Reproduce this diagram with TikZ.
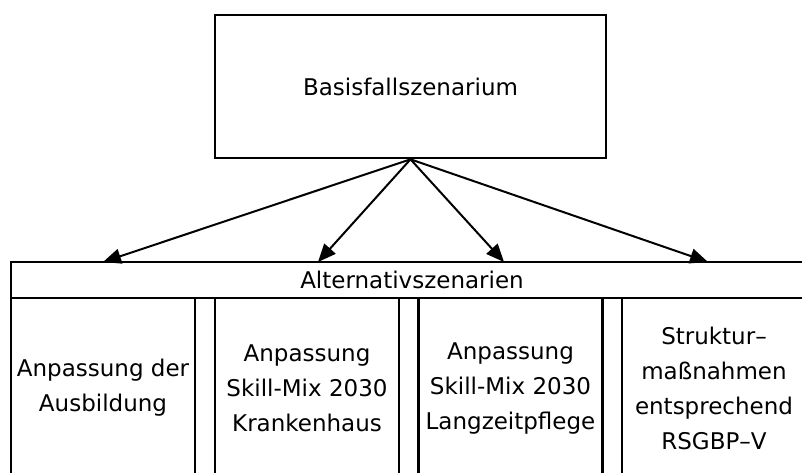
\documentclass[tikz,border=0pt]{standalone}
\usepackage{fontspec}
\setmainfont{DejaVu Sans}
\usetikzlibrary{arrows.meta}
\begin{document}
\begin{tikzpicture}[x=1pt,y=-1pt,
  box/.style={draw=black,line width=2.6pt,rectangle,inner sep=0pt,align=center,
    font=\fontsize{23}{35}\selectfont},
  scenario/.style={box,minimum width=184pt,minimum height=180pt},
  link/.style={line width=2pt,-{Triangle[length=18pt,width=15pt]}}]
  \useasboundingbox (0,0) rectangle (802,472);
  \clip (0,0) rectangle (802,472);
  % base case
  \node[box,minimum width=391pt,minimum height=143pt] (base) at (410.5,86.5) {Basisfallszenarium};
  % header of the alternative scenarios
  \node[box,minimum width=802pt,minimum height=36pt] (alt) at (412,280) {Alternativszenarien};
  % the four alternative scenarios
  \node[scenario] (s1) at (103,388) {Anpassung der\\Ausbildung};
  \node[scenario] (s2) at (307,388) {Anpassung\\Skill-Mix 2030\\Krankenhaus};
  \node[scenario] (s3) at (510.5,388) {Anpassung\\Skill-Mix 2030\\Langzeitpflege};
  \node[scenario] (s4) at (714,388) {Struktur–\\maßnahmen\\entsprechend\\RSGBP–V};
  % arrow targets on the header
  \coordinate (t1) at (103,262);
  \coordinate (t2) at (318,262);
  \coordinate (t3) at (504,262);
  \coordinate (t4) at (708,262);
  \foreach \t in {t1,t2,t3,t4}
    \draw[link] (base.south) -- (\t);
\end{tikzpicture}
\end{document}
